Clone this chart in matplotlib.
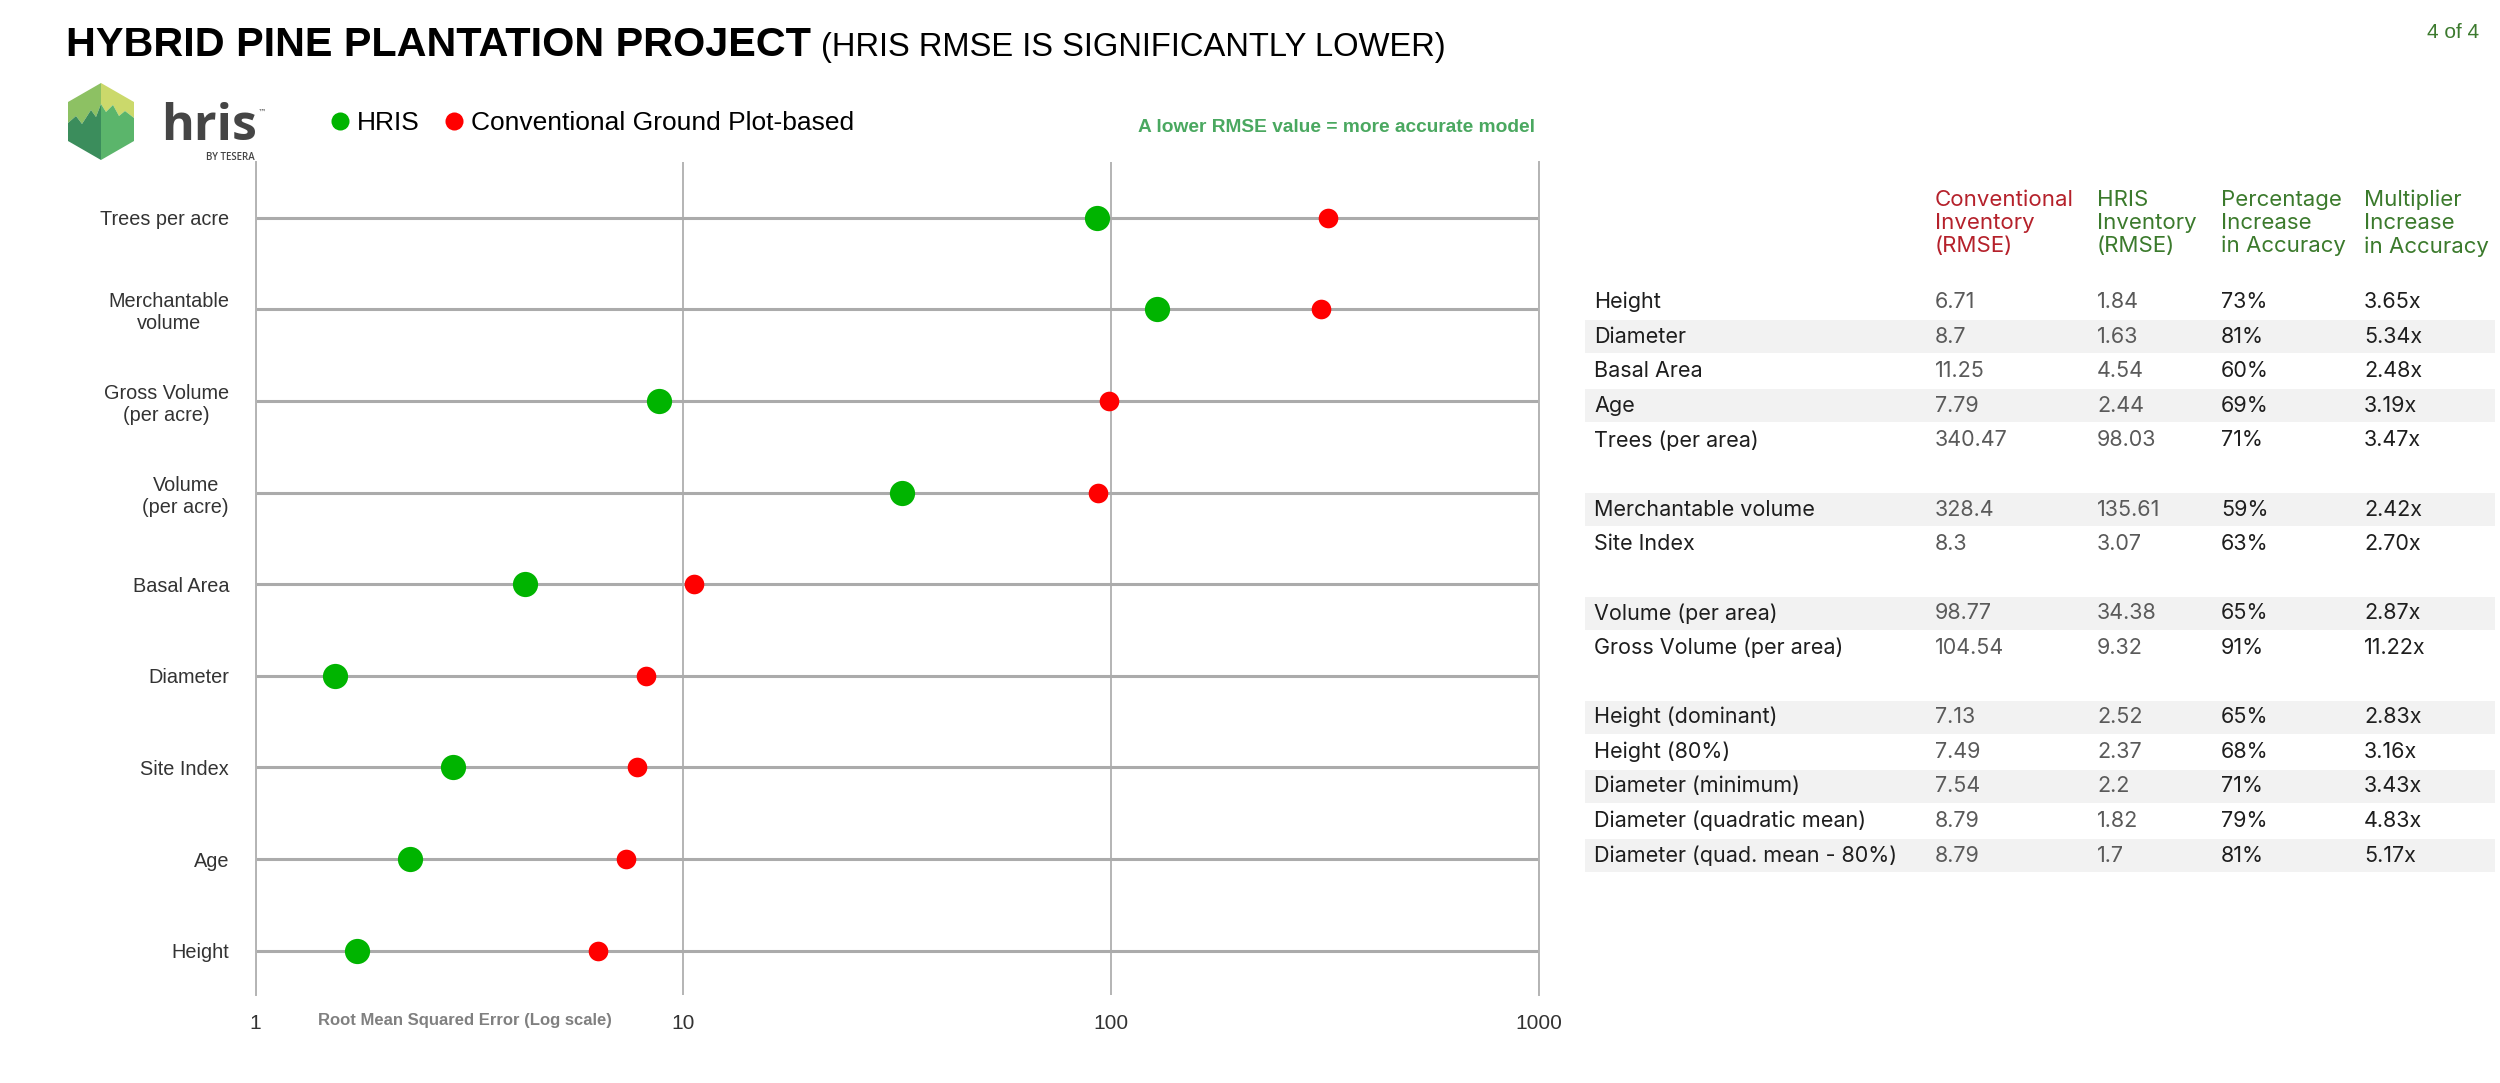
import matplotlib
matplotlib.use('Agg')
import matplotlib.pyplot as plt
from matplotlib.patches import Polygon
from matplotlib.lines import Line2D
from matplotlib.ticker import NullLocator
import numpy as np

# ---------------- data ----------------
categories = ['Height', 'Age', 'Site Index', 'Diameter', 'Basal Area',
              'Volume\n(per acre)', 'Gross Volume\n(per acre)',
              'Merchantable\nvolume', 'Trees per acre']
hris_rmse = [1.73, 2.30, 2.89, 1.535, 4.26, 32.4, 8.77, 127.7, 92.5]
conv_rmse = [6.33, 7.34, 7.79, 8.19, 10.6, 93.0, 98.7, 309.0, 321.0]
x_ticks = [1, 10, 100, 1000]
x_tick_labels = ['1', '10', '100', '1000']

table_header = ['Conventional\nInventory\n(RMSE)', 'HRIS\nInventory\n(RMSE)',
                'Percentage\nIncrease\nin Accuracy', 'Multiplier\nIncrease\nin Accuracy']
table_metrics = ['Height', 'Diameter', 'Basal Area', 'Age', 'Trees (per area)', '',
                 'Merchantable volume', 'Site Index', '',
                 'Volume (per area)', 'Gross Volume (per area)', '',
                 'Height (dominant)', 'Height (80%)', 'Diameter (minimum)',
                 'Diameter (quadratic mean)', 'Diameter (quad. mean - 80%)']
table_conv = ['6.71', '8.7', '11.25', '7.79', '340.47', '', '328.4', '8.3', '',
              '98.77', '104.54', '', '7.13', '7.49', '7.54', '8.79', '8.79']
table_hris = ['1.84', '1.63', '4.54', '2.44', '98.03', '', '135.61', '3.07', '',
              '34.38', '9.32', '', '2.52', '2.37', '2.2', '1.82', '1.7']
table_pct = ['73%', '81%', '60%', '69%', '71%', '', '59%', '63%', '',
             '65%', '91%', '', '65%', '68%', '71%', '79%', '81%']
table_mult = ['3.65x', '5.34x', '2.48x', '3.19x', '3.47x', '', '2.42x', '2.70x', '',
              '2.87x', '11.22x', '', '2.83x', '3.16x', '3.43x', '4.83x', '5.17x']
table_shaded = [False, True, False, True, False, False, True, False, False,
                True, False, False, True, False, True, False, True]

# ---------------- style ----------------
NARROW = ['Liberation Sans Narrow', 'Liberation Sans']
TABLE_FONT = ['Inter', 'DejaVu Sans']
GREEN = '#00b400'
RED = '#ff0000'

W, H = 2500, 1083
fig = plt.figure(figsize=(W / 100, H / 100), dpi=100)
fig.patch.set_facecolor('white')


def fx(px):
    return px / W


def fy(py):
    return 1 - py / H


# ---------------- dot chart ----------------
ax_left, ax_right, ax_top, ax_bot = 255.5, 1539, 162, 995
ax = fig.add_axes([fx(ax_left), fy(ax_bot), fx(ax_right - ax_left), (ax_bot - ax_top) / H])
y = np.arange(len(categories))
ax.set_xscale('log')
ax.set_xlim(1, 1000)
ax.set_ylim(-0.484, 8.608)

ax.scatter(hris_rmse, y, s=330, color=GREEN, linewidths=0, zorder=3)
ax.scatter(conv_rmse, y, s=200, color=RED, linewidths=0, zorder=3)

ax.set_yticks(y, labels=categories)
ax.set_xticks(x_ticks, labels=x_tick_labels)
ax.xaxis.set_minor_locator(NullLocator())
ax.tick_params(axis='both', length=0)
ax.tick_params(axis='y', pad=19, labelsize=14.3, labelcolor='#333333')
ax.tick_params(axis='x', pad=14, labelsize=15, labelcolor='#333333')
for lab in ax.get_yticklabels():
    lab.set_fontfamily(NARROW)
    lab.set_multialignment('center')
for lab in ax.get_xticklabels():
    lab.set_fontfamily(NARROW)

ax.xaxis.grid(True, color='#b4b4b4', lw=1.4, zorder=0)
ax.yaxis.grid(True, color='#ababab', lw=2.2, zorder=1)
ax.set_axisbelow(True)
for side in ['top', 'bottom']:
    ax.spines[side].set_visible(False)
for side in ['left', 'right']:
    ax.spines[side].set_color('#b4b4b4')
    ax.spines[side].set_linewidth(1.4)

ax.set_xlabel('Root Mean Squared Error (Log scale)', fontsize=12, fontweight='bold',
              color='#808080', fontfamily=NARROW)
ax.xaxis.label.set_ha('left')
ax.xaxis.label.set_va('center')
ax.xaxis.set_label_coords((318 - ax_left) / (ax_right - ax_left), -(1021 - ax_bot) / (ax_bot - ax_top))

# ---------------- titles ----------------
t1 = fig.text(fx(66), fy(56), 'HYBRID PINE PLANTATION PROJECT', fontsize=29.8,
              fontweight='bold', fontfamily=NARROW, va='baseline', ha='left', color='black')
fig.canvas.draw()
bb = t1.get_window_extent()
fig.text(bb.x1 / W + fx(10), fy(56), '(HRIS RMSE IS SIGNIFICANTLY LOWER)', fontsize=23.6,
         fontfamily=NARROW, va='baseline', ha='left', color='black')
fig.text(fx(2479), fy(33), '4 of 4', fontsize=15, fontfamily=NARROW, va='center',
         ha='right', color='#3c7a2e')
fig.text(fx(1138), fy(127), 'A lower RMSE value = more accurate model', fontsize=13.8,
         fontweight='bold', fontfamily=NARROW, va='center', ha='left', color='#4aa860')

# ---------------- logo ----------------
def poly(pts, color):
    p = Polygon([(fx(a), fy(b)) for a, b in pts], closed=True, facecolor=color,
                edgecolor='none', transform=fig.transFigure)
    fig.add_artist(p)

zig = [(68, 123), (76, 116), (82, 124), (91, 110), (96, 117), (101, 104)]
zig_r = [(101, 104), (106, 112), (113, 105), (119, 116), (125, 111), (134, 118)]
poly([(68, 102), (101, 83), (101, 104)] + zig[::-1][1:], '#8dc163')
poly([(101, 83), (134, 102), (134, 118)] + zig_r[::-1], '#cbd96b')
poly(zig + [(101, 160), (68, 141)], '#3b8d5c')
poly(zig_r + [(134, 141), (101, 160)], '#5bb56b')

fig.text(fx(161), fy(140), 'hris', fontsize=36, fontweight='bold',
         fontfamily=['Open Sans', 'DejaVu Sans'], color='#454545', va='baseline', ha='left')
fig.text(fx(258), fy(112), '™', fontsize=6, fontfamily=['DejaVu Sans'], color='#454545',
         va='center', ha='left')
fig.text(fx(255), fy(158), 'BY TESERA', fontsize=7, fontweight='semibold',
         fontfamily=['Open Sans', 'DejaVu Sans'], color='#454545', va='center', ha='right')

# ---------------- legend ----------------
handles = [Line2D([], [], marker='o', ls='', color=GREEN, markersize=13, markeredgewidth=0),
           Line2D([], [], marker='o', ls='', color=RED, markersize=13, markeredgewidth=0)]
fig.legend(handles, ['HRIS', 'Conventional Ground Plot-based'], loc='center left',
           bbox_to_anchor=(fx(329), fy(123)), ncol=2, frameon=False,
           prop={'family': NARROW, 'size': 19}, handlelength=0.8, handletextpad=0.25,
           columnspacing=0.9, borderpad=0, borderaxespad=0)

# ---------------- table ----------------
tx0, tx1, ty0, ty1 = 1585, 2500, 150, 880
tab = fig.add_axes([fx(tx0), fy(ty1), fx(tx1 - tx0), (ty1 - ty0) / H])
row0, rstep = 302, 34.6
tab.set_xlim(tx0, tx1)
tab.set_ylim((ty1 - row0) / rstep, (ty0 - row0) / rstep)
tab.axis('off')

col_x = [1935, 2097, 2221, 2364]
head_colors = ['#b5212b', '#3b7a2c', '#3b7a2c', '#3b7a2c']
hdr_y = (223 - row0) / rstep
for xx, txt, c in zip(col_x, table_header, head_colors):
    tab.text(xx, hdr_y, txt, fontsize=16, fontfamily=TABLE_FONT, color=c,
             ha='left', va='center', linespacing=1.2)

for i, shaded in enumerate(table_shaded):
    if shaded:
        tab.axhspan(i - 0.48, i + 0.48, xmin=0, xmax=(2495 - tx0) / (tx1 - tx0),
                    color='#f2f2f2', lw=0, zorder=0)

cols = [(1594, table_metrics, '#1e1e1e'), (col_x[0], table_conv, '#5a5a5a'),
        (col_x[1], table_hris, '#5a5a5a'), (col_x[2], table_pct, '#1e1e1e'),
        (col_x[3], table_mult, '#1e1e1e')]
for xx, vals, c in cols:
    for i, v in enumerate(vals):
        if v:
            tab.text(xx, i, v, fontsize=15.5, fontfamily=TABLE_FONT, color=c,
                     ha='left', va='center', zorder=2)

fig.savefig('out.png', dpi=100, facecolor='white')
